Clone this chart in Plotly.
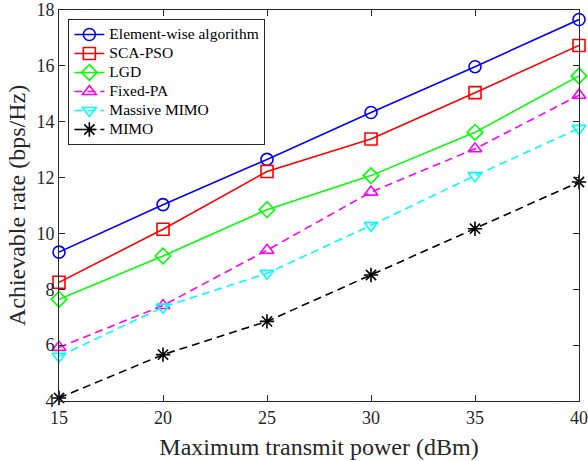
import plotly.graph_objects as go

power = [15, 20, 25, 30, 35, 40]
element_wise = [9.33, 11.03, 12.65, 14.33, 15.97, 17.66]
sca_pso = [8.25, 10.15, 12.22, 13.38, 15.04, 16.73]
lgd = [7.64, 9.19, 10.85, 12.07, 13.62, 15.64]
fixed_pa = [5.92, 7.42, 9.40, 11.48, 13.03, 14.95]
massive_mimo = [5.60, 7.36, 8.57, 10.29, 12.07, 13.76]
mimo = [4.11, 5.66, 6.85, 8.51, 10.17, 11.84]

x_ticks = [15, 20, 25, 30, 35, 40]
y_ticks = [4, 6, 8, 10, 12, 14, 16, 18]

series = [
    ("Element-wise algorithm", element_wise, "#0000FF", "circle-open", "solid"),
    ("SCA-PSO", sca_pso, "#FF0000", "square-open", "solid"),
    ("LGD", lgd, "#00FF00", "diamond-open", "solid"),
    ("Fixed-PA", fixed_pa, "#FF00FF", "triangle-up-open", "8px,5px"),
    ("Massive MIMO", massive_mimo, "#00FFFF", "triangle-down-open", "8px,5px"),
    ("MIMO", mimo, "#000000", "asterisk-open", "8px,5px"),
]

FONT = "Liberation Serif, Times New Roman, serif"

fig = go.Figure()
for name, vals, color, sym, dash in series:
    fig.add_trace(go.Scatter(
        x=power, y=vals, mode="lines+markers",
        name='<span style="font-size:15.5px">' + name + '</span>',
        line=dict(color=color, width=1.6, dash=dash),
        marker=dict(symbol=sym, size=12, color=color, line=dict(width=1.6, color=color)),
        cliponaxis=False,
    ))

axis_common = dict(
    showgrid=False, zeroline=False, showline=True, linecolor="#262626", linewidth=1,
    mirror="ticks", ticks="inside", ticklen=6, tickcolor="#262626",
    tickfont=dict(family=FONT, size=18, color="#262626"),
    automargin=False,
)

fig.update_layout(
    width=588, height=461,
    margin=dict(l=59, r=9, t=10, b=60),
    plot_bgcolor="white", paper_bgcolor="white",
    font=dict(family=FONT, color="#262626"),
    xaxis=dict(range=[15, 40], tickvals=x_ticks,
               title=dict(text="Maximum transmit power (dBm)", font=dict(family=FONT, size=24, color="#262626"), standoff=11),
               **axis_common),
    yaxis=dict(range=[4, 18], tickvals=y_ticks,
               title=dict(text="Achievable rate (bps/Hz)", font=dict(family=FONT, size=24, color="#262626"), standoff=4),
               **axis_common),
    legend=dict(x=0.018, y=0.977, xanchor="left", yanchor="top",
                bgcolor="white", bordercolor="#262626", borderwidth=1,
                font=dict(family=FONT, size=12, color="#000000"),
                tracegroupgap=0, itemwidth=30),
    showlegend=True,
)

fig.write_html("out.html", config={"displayModeBar": False},
               post_script="document.body.style.margin='0';")
